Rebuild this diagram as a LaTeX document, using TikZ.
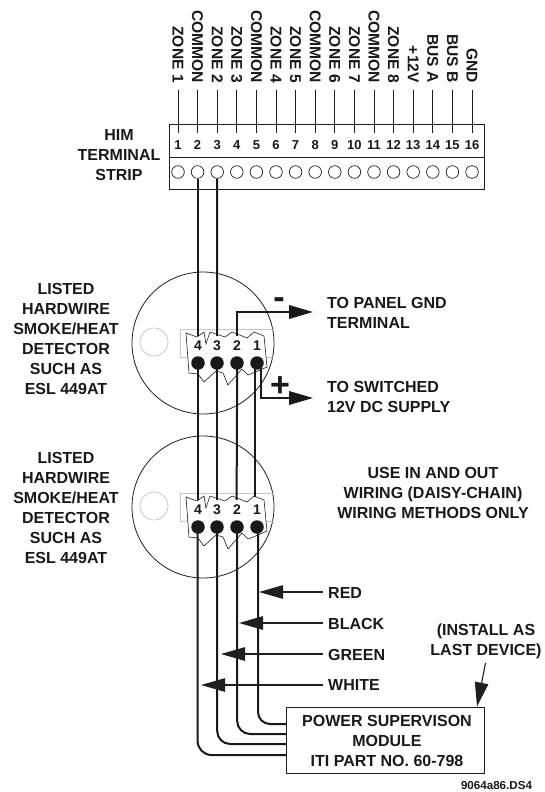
\documentclass[tikz,border=0pt]{standalone}
\usepackage{fontspec}
\setmainfont{Liberation Sans}
\usetikzlibrary{arrows.meta}
\tikzset{
  x=1pt,y=-1pt,
  thinline/.style={line width=0.9pt,draw=black!88},
  wire/.style={line width=2pt,draw=black!90},
  label/.style={font=\bfseries\fontsize{16}{20}\selectfont,inner sep=0pt,align=center,text=black!90},
  leftlabel/.style={label,align=left,anchor=west},
  toplabel/.style={font=\bfseries\fontsize{15.6}{18}\selectfont,inner sep=0pt,rotate=-90,anchor=east,text=black!90},
  num/.style={font=\bfseries\fontsize{13}{15}\selectfont,inner sep=0pt,text=black!90},
  dnum/.style={font=\bfseries\fontsize{14}{15}\selectfont,inner sep=0pt,text=black!90},
  hole/.style={circle,draw=black!88,line width=0.7pt,minimum size=12.6pt,inner sep=0pt},
  dot/.style={circle,fill=black!90,minimum size=13.5pt,inner sep=0pt},
  sign/.style={font=\bfseries\fontsize{34}{34}\selectfont,inner sep=0pt,text=black!90},
  bigtip/.style={-{Triangle[length=24pt,width=13.5pt]}},
  detector/.style={circle,draw=black!88,line width=0.8pt,minimum size=142pt,inner sep=0pt},
  ghost/.style={circle,draw=black!22,line width=0.8pt,minimum size=28pt,inner sep=0pt},
}
\newcommand{\detectorbody}[2]{%
  \begin{scope}[shift={(0,#1)}]
    \node[detector] (det#2) at (203,343) {};
    \node[ghost] (led#2) at (154,342) {};
    \draw[draw=black!22,line width=0.7pt] (273,329) -- (180,329) -- (180,357) -- (273,357);
    \draw[line width=0.6pt,draw=black!88,fill=white]
      (186,333) -- (197,337) -- (204,332) -- (206,344) -- (210,332) -- (225,337) -- (232,332)
      -- (247,338) -- (254,332) -- (264,336) -- (267,367) -- (258,371) -- (248,375) -- (242,369)
      -- (228,385) -- (223,373) -- (216,371) -- (204,382) -- (198,374) -- (189,373) -- cycle;
    \node[dnum] (n4#2) at (198,346) {4};
    \node[dnum] (n3#2) at (217,346) {3};
    \node[dnum] (n2#2) at (237,346) {2};
    \node[dnum] (n1#2) at (257,346) {1};
    \node[dot] (p4#2) at (198,363) {};
    \node[dot] (p3#2) at (217,363) {};
    \node[dot] (p2#2) at (237,363) {};
    \node[dot] (p1#2) at (257,363) {};
    \coordinate (i4#2) at (197.6,336);
    \coordinate (i3#2) at (217.2,336);
    \coordinate (i2#2) at (236.6,336);
    \coordinate (i1#2) at (255,333);
    \coordinate (e4#2) at (197.6,363);
    \coordinate (e3#2) at (217.2,363);
    \coordinate (e2#2) at (237.2,363);
    \coordinate (e1#2) at (255,363);
    \coordinate (f1#2) at (261,363);
    \coordinate (g1#2) at (258,363);
  \end{scope}}
\begin{document}
\begin{tikzpicture}
\useasboundingbox (0,0) rectangle (544,792);
% terminal strip
\node[draw=black!88,line width=0.9pt,minimum width=315pt,minimum height=65pt,inner sep=0pt,anchor=north west] (strip) at (169,124) {};
\draw[thinline] (strip.west |- 0,157) -- (strip.east |- 0,157);
\foreach \i/\t in {1/ZONE 1,2/COMMON,3/ZONE 2,4/ZONE 3,5/COMMON,6/ZONE 4,7/ZONE 5,8/COMMON,9/ZONE 6,10/ZONE 7,11/COMMON,12/ZONE 8,13/+12V,14/BUS A,15/BUS B,16/GND}{
  \pgfmathsetmacro{\xx}{178+19.6*(\i-1)}
  \node[toplabel] (lab\i) at (\xx,83) {\t};
  \node[num] (n\i) at (\xx,145) {\i};
  \node[hole] (h\i) at (\xx,172) {};
  \coordinate (lt\i) at (\xx,90);
  \coordinate (lb\i) at (\xx,133);
  \draw[thinline] (lt\i) -- (lb\i);
}
\node[label] (him) at (119,155) {HIM\\TERMINAL\\STRIP};
% detectors
\detectorbody{0}{a}
\detectorbody{164}{b}
\node[label] (lista) at (66,339) {LISTED\\HARDWIRE\\SMOKE/HEAT\\DETECTOR\\SUCH AS\\ESL 449AT};
\node[label] (listb) at (66,508) {LISTED\\HARDWIRE\\SMOKE/HEAT\\DETECTOR\\SUCH AS\\ESL 449AT};
% module
\node[draw=black!88,line width=0.9pt,minimum width=198pt,minimum height=66pt,inner sep=0pt,anchor=north west] (mod) at (286,707) {};
\node[label] (modtext) at (387,741) {POWER SUPERVISON\\MODULE\\ITI PART NO. 60-798};
% wires from strip to first detector
\draw[wire] (h2.south) -- (i4a);
\draw[wire] (h3.south) -- (i3a);
% power arrows
\node[leftlabel] (gnd) at (327,313) {TO PANEL GND\\TERMINAL};
\node[leftlabel] (sup) at (327,397) {TO SWITCHED\\12V DC SUPPLY};
\coordinate (gndtip) at (313,312);
\coordinate (suptip) at (313,398);
\draw[wire,bigtip] (i2a) -- (i2a |- gndtip) -- (gndtip);
\draw[wire,bigtip] (f1a) -- (f1a |- suptip) -- (suptip);
\node[sign] (minus) at (279,303) {-};
\node[sign] (plus) at (280,387) {+};
% daisy chain
\draw[wire] (e4a) -- (i4b);
\draw[wire] (e3a) -- (i3b);
\draw[wire] (e2a) -- (i2b);
\draw[wire] (e1a) -- (i1b);
% to module
\coordinate (m4) at (mod.west |- 0,755);
\coordinate (m3) at (mod.west |- 0,744);
\coordinate (m2) at (mod.west |- 0,734);
\coordinate (m1) at (mod.west |- 0,724);
\draw[wire,rounded corners=14pt] (e4b) -- (e4b |- m4) -- (m4);
\draw[wire,rounded corners=13pt] (e3b) -- (e3b |- m3) -- (m3);
\draw[wire,rounded corners=13pt] (e2b) -- (e2b |- m2) -- (m2);
\draw[wire,rounded corners=12pt] (g1b) -- (g1b |- m1) -- (m1);
% colour labels
\node[leftlabel] (red) at (328,593) {RED};
\node[leftlabel] (black) at (328,624) {BLACK};
\node[leftlabel] (green) at (328,655) {GREEN};
\node[leftlabel] (white) at (328,685) {WHITE};
\coordinate (redtip) at (259,592);
\coordinate (blacktip) at (239,623);
\coordinate (greentip) at (221,654);
\coordinate (whitetip) at (201,685);
\draw[thinline,line width=1.1pt,bigtip] ([xshift=-5pt]red.west |- redtip) -- (redtip);
\draw[thinline,line width=1.1pt,bigtip] ([xshift=-5pt]black.west |- blacktip) -- (blacktip);
\draw[thinline,line width=1.1pt,bigtip] ([xshift=-5pt]green.west |- greentip) -- (greentip);
\draw[thinline,line width=1.1pt,bigtip] ([xshift=-5pt]white.west |- whitetip) -- (whitetip);
% notes
\node[label] (use) at (433,493) {USE IN AND OUT\\WIRING (DAISY-CHAIN)\\WIRING METHODS ONLY};
\node[label] (inst) at (486,641.5) {(INSTALL AS\\LAST DEVICE)};
\coordinate (insttop) at (485.5,663);
\coordinate (insttip) at (477,706.5);
\draw[thinline,line width=1.1pt,bigtip] (insttop) -- (insttip);
\node[font=\bfseries\fontsize{11.6}{13}\selectfont,inner sep=0pt,text=black!90] (code) at (496.5,785.5) {9064a86.DS4};
\end{tikzpicture}
\end{document}
